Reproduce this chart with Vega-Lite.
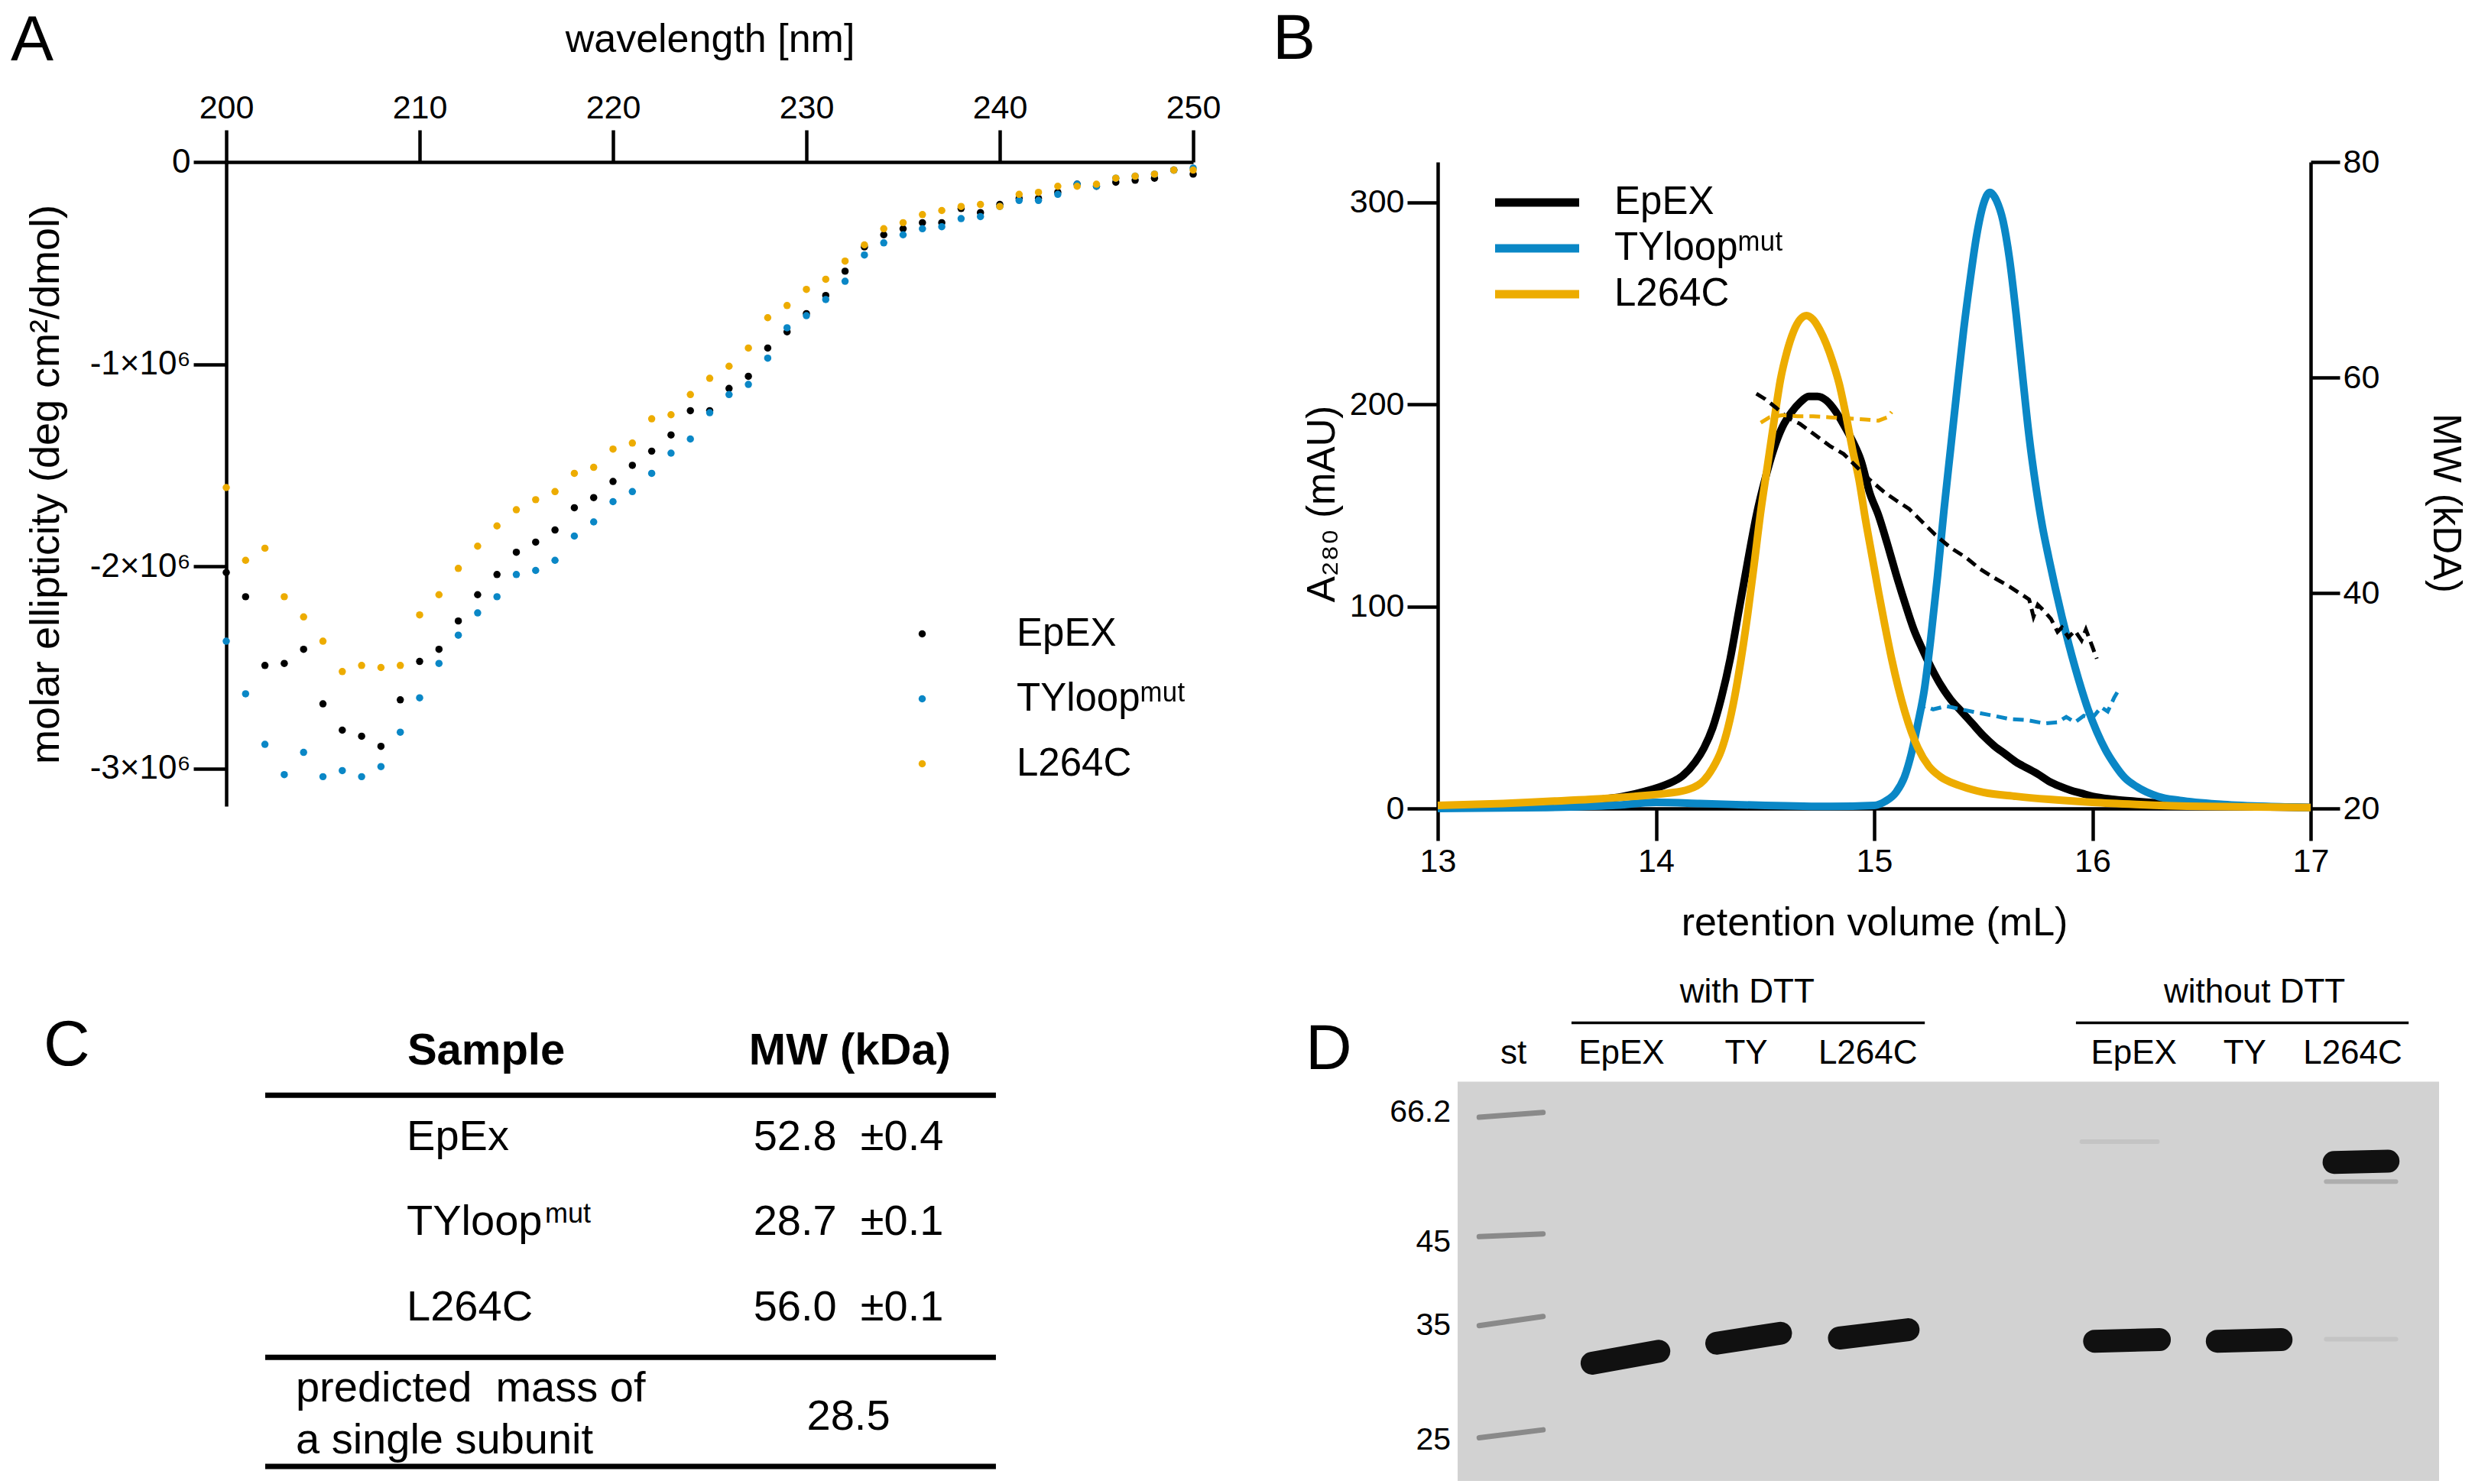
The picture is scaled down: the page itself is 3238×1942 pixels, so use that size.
{
"$schema":"https://vega.github.io/schema/vega-lite/v6.json",
"background":"white",
"padding":{"left":14,"top":10,"right":12,"bottom":0},
"config":{"font":"Liberation Sans","view":{"stroke":null},
 "axis":{"domainColor":"black","tickColor":"black","labelColor":"black","titleColor":"black","domainWidth":4.5,"tickWidth":4.5,"grid":false,"labelFont":"Liberation Sans","titleFont":"Liberation Sans","titleFontWeight":"normal","labelFlush":false,"labelOverlap":false},
 "legend":{"labelFont":"Liberation Sans","labelColor":"black","padding":0,"titlePadding":0,"labelLimit":0},
 "title":{"font":"Liberation Sans","fontWeight":"normal","color":"black","anchor":"start","frame":"group","fontSize":84,"offset":0,"baseline":"alphabetic"},
 "text":{"font":"Liberation Sans","color":"black"}},
"datasets":{
 "cd":[
{"wavelength":200,"EpEX":-2030000,"TYloop":-2370000,"L264C":-1610000},
{"wavelength":201,"EpEX":-2150000,"TYloop":-2630000,"L264C":-1970000},
{"wavelength":202,"EpEX":-2490000,"TYloop":-2880000,"L264C":-1910000},
{"wavelength":203,"EpEX":-2480000,"TYloop":-3030000,"L264C":-2150000},
{"wavelength":204,"EpEX":-2410000,"TYloop":-2920000,"L264C":-2250000},
{"wavelength":205,"EpEX":-2680000,"TYloop":-3040000,"L264C":-2370000},
{"wavelength":206,"EpEX":-2810000,"TYloop":-3010000,"L264C":-2520000},
{"wavelength":207,"EpEX":-2840000,"TYloop":-3040000,"L264C":-2490000},
{"wavelength":208,"EpEX":-2890000,"TYloop":-2990000,"L264C":-2500000},
{"wavelength":209,"EpEX":-2660000,"TYloop":-2820000,"L264C":-2490000},
{"wavelength":210,"EpEX":-2470000,"TYloop":-2650000,"L264C":-2240000},
{"wavelength":211,"EpEX":-2410000,"TYloop":-2480000,"L264C":-2140000},
{"wavelength":212,"EpEX":-2270000,"TYloop":-2340000,"L264C":-2010000},
{"wavelength":213,"EpEX":-2140000,"TYloop":-2230000,"L264C":-1900000},
{"wavelength":214,"EpEX":-2040000,"TYloop":-2150000,"L264C":-1800000},
{"wavelength":215,"EpEX":-1930000,"TYloop":-2040000,"L264C":-1720000},
{"wavelength":216,"EpEX":-1880000,"TYloop":-2020000,"L264C":-1670000},
{"wavelength":217,"EpEX":-1820000,"TYloop":-1970000,"L264C":-1630000},
{"wavelength":218,"EpEX":-1710000,"TYloop":-1850000,"L264C":-1540000},
{"wavelength":219,"EpEX":-1660000,"TYloop":-1780000,"L264C":-1510000},
{"wavelength":220,"EpEX":-1580000,"TYloop":-1680000,"L264C":-1420000},
{"wavelength":221,"EpEX":-1500000,"TYloop":-1630000,"L264C":-1390000},
{"wavelength":222,"EpEX":-1430000,"TYloop":-1540000,"L264C":-1270000},
{"wavelength":223,"EpEX":-1350000,"TYloop":-1440000,"L264C":-1250000},
{"wavelength":224,"EpEX":-1230000,"TYloop":-1370000,"L264C":-1150000},
{"wavelength":225,"EpEX":-1230000,"TYloop":-1240000,"L264C":-1070000},
{"wavelength":226,"EpEX":-1120000,"TYloop":-1150000,"L264C":-1010000},
{"wavelength":227,"EpEX":-1060000,"TYloop":-1100000,"L264C":-920000},
{"wavelength":228,"EpEX":-920000,"TYloop":-970000,"L264C":-770000},
{"wavelength":229,"EpEX":-840000,"TYloop":-820000,"L264C":-710000},
{"wavelength":230,"EpEX":-750000,"TYloop":-760000,"L264C":-630000},
{"wavelength":231,"EpEX":-660000,"TYloop":-680000,"L264C":-580000},
{"wavelength":232,"EpEX":-540000,"TYloop":-590000,"L264C":-490000},
{"wavelength":233,"EpEX":-420000,"TYloop":-460000,"L264C":-410000},
{"wavelength":234,"EpEX":-360000,"TYloop":-400000,"L264C":-330000},
{"wavelength":235,"EpEX":-330000,"TYloop":-360000,"L264C":-300000},
{"wavelength":236,"EpEX":-300000,"TYloop":-330000,"L264C":-260000},
{"wavelength":237,"EpEX":-300000,"TYloop":-320000,"L264C":-240000},
{"wavelength":238,"EpEX":-230000,"TYloop":-280000,"L264C":-220000},
{"wavelength":239,"EpEX":-250000,"TYloop":-270000,"L264C":-210000},
{"wavelength":240,"EpEX":-210000,"TYloop":-220000,"L264C":-220000},
{"wavelength":241,"EpEX":-180000,"TYloop":-190000,"L264C":-160000},
{"wavelength":242,"EpEX":-180000,"TYloop":-190000,"L264C":-150000},
{"wavelength":243,"EpEX":-150000,"TYloop":-160000,"L264C":-120000},
{"wavelength":244,"EpEX":-110000,"TYloop":-110000,"L264C":-120000},
{"wavelength":245,"EpEX":-120000,"TYloop":-120000,"L264C":-110000},
{"wavelength":246,"EpEX":-100000,"TYloop":-80000,"L264C":-80000},
{"wavelength":247,"EpEX":-90000,"TYloop":-70000,"L264C":-70000},
{"wavelength":248,"EpEX":-80000,"TYloop":-60000,"L264C":-60000},
{"wavelength":249,"EpEX":-40000,"TYloop":-40000,"L264C":-40000},
{"wavelength":250,"EpEX":-60000,"TYloop":-30000,"L264C":-40000}],
 "sec":[
{"volume":13.0,"sample":"EpEX","A280":0.5},{"volume":13.3,"sample":"EpEX","A280":1},{"volume":13.5,"sample":"EpEX","A280":2.5},{"volume":13.7,"sample":"EpEX","A280":4},{"volume":13.85,"sample":"EpEX","A280":6},{"volume":13.95,"sample":"EpEX","A280":8.5},{"volume":14.05,"sample":"EpEX","A280":12},{"volume":14.12,"sample":"EpEX","A280":16},{"volume":14.18,"sample":"EpEX","A280":23},{"volume":14.22,"sample":"EpEX","A280":30},{"volume":14.26,"sample":"EpEX","A280":40},{"volume":14.30,"sample":"EpEX","A280":55},{"volume":14.34,"sample":"EpEX","A280":74},{"volume":14.38,"sample":"EpEX","A280":98},{"volume":14.42,"sample":"EpEX","A280":122},{"volume":14.46,"sample":"EpEX","A280":145},{"volume":14.50,"sample":"EpEX","A280":163},{"volume":14.54,"sample":"EpEX","A280":178},{"volume":14.58,"sample":"EpEX","A280":189},{"volume":14.62,"sample":"EpEX","A280":196},{"volume":14.66,"sample":"EpEX","A280":201},{"volume":14.70,"sample":"EpEX","A280":204},{"volume":14.74,"sample":"EpEX","A280":204},{"volume":14.78,"sample":"EpEX","A280":202},{"volume":14.82,"sample":"EpEX","A280":197},{"volume":14.86,"sample":"EpEX","A280":190},{"volume":14.90,"sample":"EpEX","A280":182},{"volume":14.94,"sample":"EpEX","A280":172},{"volume":14.98,"sample":"EpEX","A280":156},{"volume":15.02,"sample":"EpEX","A280":145},{"volume":15.06,"sample":"EpEX","A280":131},{"volume":15.10,"sample":"EpEX","A280":116},{"volume":15.14,"sample":"EpEX","A280":102},{"volume":15.18,"sample":"EpEX","A280":89},{"volume":15.22,"sample":"EpEX","A280":79},{"volume":15.26,"sample":"EpEX","A280":70},{"volume":15.30,"sample":"EpEX","A280":62},{"volume":15.35,"sample":"EpEX","A280":54},{"volume":15.40,"sample":"EpEX","A280":48},{"volume":15.45,"sample":"EpEX","A280":42},{"volume":15.50,"sample":"EpEX","A280":36},{"volume":15.55,"sample":"EpEX","A280":31},{"volume":15.60,"sample":"EpEX","A280":27},{"volume":15.65,"sample":"EpEX","A280":23},{"volume":15.70,"sample":"EpEX","A280":20},{"volume":15.75,"sample":"EpEX","A280":17},{"volume":15.80,"sample":"EpEX","A280":13.5},{"volume":15.85,"sample":"EpEX","A280":11},{"volume":15.90,"sample":"EpEX","A280":9},{"volume":15.95,"sample":"EpEX","A280":7.5},{"volume":16.0,"sample":"EpEX","A280":6},{"volume":16.1,"sample":"EpEX","A280":4.5},{"volume":16.2,"sample":"EpEX","A280":3.5},{"volume":16.4,"sample":"EpEX","A280":2},{"volume":16.6,"sample":"EpEX","A280":1.2},{"volume":16.8,"sample":"EpEX","A280":0.8},{"volume":17.0,"sample":"EpEX","A280":0.5},
{"volume":13.0,"sample":"TYloop","A280":0},{"volume":13.5,"sample":"TYloop","A280":0.5},{"volume":13.8,"sample":"TYloop","A280":1.5},{"volume":14.0,"sample":"TYloop","A280":3},{"volume":14.2,"sample":"TYloop","A280":2.5},{"volume":14.5,"sample":"TYloop","A280":1.5},{"volume":14.8,"sample":"TYloop","A280":1},{"volume":15.0,"sample":"TYloop","A280":1.5},{"volume":15.05,"sample":"TYloop","A280":3.5},{"volume":15.10,"sample":"TYloop","A280":8},{"volume":15.14,"sample":"TYloop","A280":16},{"volume":15.17,"sample":"TYloop","A280":27},{"volume":15.20,"sample":"TYloop","A280":42},{"volume":15.23,"sample":"TYloop","A280":59},{"volume":15.26,"sample":"TYloop","A280":85},{"volume":15.29,"sample":"TYloop","A280":115},{"volume":15.32,"sample":"TYloop","A280":148},{"volume":15.35,"sample":"TYloop","A280":178},{"volume":15.38,"sample":"TYloop","A280":208},{"volume":15.41,"sample":"TYloop","A280":237},{"volume":15.44,"sample":"TYloop","A280":262},{"volume":15.47,"sample":"TYloop","A280":284},{"volume":15.50,"sample":"TYloop","A280":299},{"volume":15.53,"sample":"TYloop","A280":305},{"volume":15.56,"sample":"TYloop","A280":301},{"volume":15.59,"sample":"TYloop","A280":291},{"volume":15.62,"sample":"TYloop","A280":272},{"volume":15.65,"sample":"TYloop","A280":245},{"volume":15.68,"sample":"TYloop","A280":214},{"volume":15.71,"sample":"TYloop","A280":184},{"volume":15.74,"sample":"TYloop","A280":160},{"volume":15.77,"sample":"TYloop","A280":140},{"volume":15.80,"sample":"TYloop","A280":124},{"volume":15.83,"sample":"TYloop","A280":109},{"volume":15.86,"sample":"TYloop","A280":95},{"volume":15.89,"sample":"TYloop","A280":82},{"volume":15.92,"sample":"TYloop","A280":70},{"volume":15.95,"sample":"TYloop","A280":59},{"volume":15.98,"sample":"TYloop","A280":49},{"volume":16.02,"sample":"TYloop","A280":38},{"volume":16.06,"sample":"TYloop","A280":29},{"volume":16.10,"sample":"TYloop","A280":22},{"volume":16.15,"sample":"TYloop","A280":15},{"volume":16.2,"sample":"TYloop","A280":11},{"volume":16.3,"sample":"TYloop","A280":6},{"volume":16.4,"sample":"TYloop","A280":4},{"volume":16.6,"sample":"TYloop","A280":2},{"volume":16.8,"sample":"TYloop","A280":1},{"volume":17.0,"sample":"TYloop","A280":0.5},
{"volume":13.0,"sample":"L264C","A280":1.5},{"volume":13.3,"sample":"L264C","A280":2.5},{"volume":13.5,"sample":"L264C","A280":3.5},{"volume":13.7,"sample":"L264C","A280":4.5},{"volume":13.9,"sample":"L264C","A280":6},{"volume":14.05,"sample":"L264C","A280":7.5},{"volume":14.15,"sample":"L264C","A280":9.5},{"volume":14.22,"sample":"L264C","A280":14},{"volume":14.26,"sample":"L264C","A280":20},{"volume":14.30,"sample":"L264C","A280":29},{"volume":14.33,"sample":"L264C","A280":40},{"volume":14.36,"sample":"L264C","A280":55},{"volume":14.39,"sample":"L264C","A280":74},{"volume":14.42,"sample":"L264C","A280":96},{"volume":14.45,"sample":"L264C","A280":121},{"volume":14.48,"sample":"L264C","A280":147},{"volume":14.51,"sample":"L264C","A280":169},{"volume":14.54,"sample":"L264C","A280":191},{"volume":14.57,"sample":"L264C","A280":212},{"volume":14.60,"sample":"L264C","A280":226},{"volume":14.63,"sample":"L264C","A280":236},{"volume":14.66,"sample":"L264C","A280":242},{"volume":14.69,"sample":"L264C","A280":244},{"volume":14.72,"sample":"L264C","A280":242},{"volume":14.75,"sample":"L264C","A280":237},{"volume":14.78,"sample":"L264C","A280":230},{"volume":14.81,"sample":"L264C","A280":221},{"volume":14.84,"sample":"L264C","A280":210},{"volume":14.87,"sample":"L264C","A280":195},{"volume":14.90,"sample":"L264C","A280":178},{"volume":14.93,"sample":"L264C","A280":163},{"volume":14.96,"sample":"L264C","A280":143},{"volume":14.99,"sample":"L264C","A280":125},{"volume":15.02,"sample":"L264C","A280":107},{"volume":15.05,"sample":"L264C","A280":90},{"volume":15.08,"sample":"L264C","A280":74},{"volume":15.11,"sample":"L264C","A280":60},{"volume":15.14,"sample":"L264C","A280":48},{"volume":15.17,"sample":"L264C","A280":38},{"volume":15.20,"sample":"L264C","A280":30},{"volume":15.25,"sample":"L264C","A280":21},{"volume":15.30,"sample":"L264C","A280":16},{"volume":15.40,"sample":"L264C","A280":11},{"volume":15.50,"sample":"L264C","A280":8},{"volume":15.65,"sample":"L264C","A280":6},{"volume":15.80,"sample":"L264C","A280":4.5},{"volume":16.0,"sample":"L264C","A280":3},{"volume":16.2,"sample":"L264C","A280":2},{"volume":16.5,"sample":"L264C","A280":1},{"volume":17.0,"sample":"L264C","A280":0.5}],
 "mw":[
{"volume":14.46,"sample":"EpEX","MW":58.5},{"volume":14.50,"sample":"EpEX","MW":58.0},{"volume":14.55,"sample":"EpEX","MW":57.2},{"volume":14.60,"sample":"EpEX","MW":56.3},{"volume":14.66,"sample":"EpEX","MW":55.7},{"volume":14.72,"sample":"EpEX","MW":54.8},{"volume":14.80,"sample":"EpEX","MW":53.6},{"volume":14.86,"sample":"EpEX","MW":52.9},{"volume":14.92,"sample":"EpEX","MW":51.7},{"volume":14.98,"sample":"EpEX","MW":50.5},{"volume":15.05,"sample":"EpEX","MW":49.3},{"volume":15.10,"sample":"EpEX","MW":48.6},{"volume":15.16,"sample":"EpEX","MW":47.8},{"volume":15.22,"sample":"EpEX","MW":46.6},{"volume":15.28,"sample":"EpEX","MW":45.4},{"volume":15.35,"sample":"EpEX","MW":44.2},{"volume":15.42,"sample":"EpEX","MW":43.3},{"volume":15.48,"sample":"EpEX","MW":42.3},{"volume":15.55,"sample":"EpEX","MW":41.4},{"volume":15.62,"sample":"EpEX","MW":40.6},{"volume":15.68,"sample":"EpEX","MW":39.8},{"volume":15.71,"sample":"EpEX","MW":39.4},{"volume":15.73,"sample":"EpEX","MW":37.8},{"volume":15.75,"sample":"EpEX","MW":38.9},{"volume":15.78,"sample":"EpEX","MW":38.3},{"volume":15.81,"sample":"EpEX","MW":37.6},{"volume":15.84,"sample":"EpEX","MW":36.4},{"volume":15.86,"sample":"EpEX","MW":36.8},{"volume":15.89,"sample":"EpEX","MW":35.9},{"volume":15.92,"sample":"EpEX","MW":36.5},{"volume":15.95,"sample":"EpEX","MW":35.6},{"volume":15.97,"sample":"EpEX","MW":36.6},{"volume":16.0,"sample":"EpEX","MW":35.0},{"volume":16.02,"sample":"EpEX","MW":33.9},
{"volume":15.20,"sample":"TYloop","MW":28.8},{"volume":15.23,"sample":"TYloop","MW":29.5},{"volume":15.27,"sample":"TYloop","MW":29.2},{"volume":15.33,"sample":"TYloop","MW":29.5},{"volume":15.40,"sample":"TYloop","MW":29.2},{"volume":15.47,"sample":"TYloop","MW":28.9},{"volume":15.55,"sample":"TYloop","MW":28.6},{"volume":15.62,"sample":"TYloop","MW":28.3},{"volume":15.70,"sample":"TYloop","MW":28.2},{"volume":15.78,"sample":"TYloop","MW":27.9},{"volume":15.84,"sample":"TYloop","MW":28.0},{"volume":15.88,"sample":"TYloop","MW":28.5},{"volume":15.92,"sample":"TYloop","MW":28.0},{"volume":15.96,"sample":"TYloop","MW":28.6},{"volume":16.0,"sample":"TYloop","MW":28.4},{"volume":16.04,"sample":"TYloop","MW":29.4},{"volume":16.07,"sample":"TYloop","MW":29.0},{"volume":16.10,"sample":"TYloop","MW":30.3},{"volume":16.12,"sample":"TYloop","MW":31.0},
{"volume":14.48,"sample":"L264C","MW":55.8},{"volume":14.52,"sample":"L264C","MW":56.3},{"volume":14.58,"sample":"L264C","MW":56.5},{"volume":14.65,"sample":"L264C","MW":56.4},{"volume":14.72,"sample":"L264C","MW":56.4},{"volume":14.80,"sample":"L264C","MW":56.3},{"volume":14.88,"sample":"L264C","MW":56.2},{"volume":14.96,"sample":"L264C","MW":56.1},{"volume":15.02,"sample":"L264C","MW":56.0},{"volume":15.06,"sample":"L264C","MW":56.3},{"volume":15.08,"sample":"L264C","MW":56.8}],
 "table":[
{"row":1,"sample":"EpEx","sup":"","mw":"52.8\u00a0\u00a0±0.4"},
{"row":2,"sample":"TYloop","sup":"mut","mw":"28.7\u00a0\u00a0±0.1"},
{"row":3,"sample":"L264C","sup":"","mw":"56.0\u00a0\u00a0±0.1"}],
 "bands":[
{"lane":"st","kind":"marker","left":2.2,"right":8.7,"mig_left":8.9,"mig_right":7.7},
{"lane":"st","kind":"marker","left":2.2,"right":8.7,"mig_left":38.8,"mig_right":38.1},
{"lane":"st","kind":"marker","left":2.2,"right":8.7,"mig_left":61.1,"mig_right":58.8},
{"lane":"st","kind":"marker","left":2.2,"right":8.7,"mig_left":89.2,"mig_right":87.2},
{"lane":"EpEX +DTT","kind":"protein","left":13.7,"right":20.5,"mig_left":70.5,"mig_right":67.5},
{"lane":"TY +DTT","kind":"protein","left":26.4,"right":32.9,"mig_left":65.5,"mig_right":63.0},
{"lane":"L264C +DTT","kind":"protein","left":38.9,"right":45.9,"mig_left":64.2,"mig_right":62.1},
{"lane":"EpEX -DTT","kind":"protein","left":64.9,"right":71.5,"mig_left":65.0,"mig_right":64.6},
{"lane":"TY -DTT","kind":"protein","left":77.4,"right":83.9,"mig_left":65.0,"mig_right":64.6},
{"lane":"L264C -DTT","kind":"protein","left":89.3,"right":94.8,"mig_left":20.2,"mig_right":19.9},
{"lane":"L264C -DTT","kind":"faint","left":88.5,"right":95.6,"mig_left":25.0,"mig_right":25.0},
{"lane":"L264C -DTT","kind":"trace","left":88.5,"right":95.6,"mig_left":64.5,"mig_right":64.5},
{"lane":"EpEX -DTT","kind":"trace","left":63.6,"right":71.3,"mig_left":15.0,"mig_right":15.0}],
 "lanes":[
{"label":"st","lane_pos":5.7},{"label":"EpEX","lane_pos":16.7},{"label":"TY","lane_pos":29.4},{"label":"L264C","lane_pos":41.8},
{"label":"EpEX","lane_pos":68.9},{"label":"TY","lane_pos":80.2},{"label":"L264C","lane_pos":91.2}],
 "groups":[
{"label":"with DTT","center":29.5,"start":11.6,"end":47.6},
{"label":"without DTT","center":81.2,"start":63.0,"end":96.9}],
 "markers":[
{"kDa":"66.2","migration":10.0},{"kDa":"45","migration":42.5},{"kDa":"35","migration":63.4},{"kDa":"25","migration":92.1}]
},
"spacing":28,
"vconcat":[
{"hconcat":[
 {"width":1265,"height":843,
  "title":{"text":"A","dx":-282,"dy":76},
  "data":{"name":"cd"},
  "transform":[{"fold":["EpEX","TYloop","L264C"],"as":["sample","ellipticity"]}],
  "mark":{"type":"point","filled":true,"size":90,"opacity":1},
  "encoding":{
   "x":{"field":"wavelength","type":"quantitative","scale":{"domain":[200,250],"nice":false,"zero":false},
     "axis":{"orient":"top","values":[200,210,220,230,240,250],"format":"d","tickSize":42,"labelPadding":7,"labelFontSize":43,"title":"wavelength [nm]","titleFontSize":52,"titlePadding":42}},
   "y":{"field":"ellipticity","type":"quantitative","scale":{"domain":[-3186000,0],"nice":false,"zero":false},
     "axis":{"values":[-3000000,-2000000,-1000000,0],"labelExpr":"datum.value == 0 ? '0' : '-' + (-datum.value/1000000) + '×10⁶'","tickSize":43,"labelPadding":4,"labelFontSize":44,"title":"molar ellipticity (deg cm²/dmol)","titleFontSize":54,"titlePadding":30}},
   "color":{"field":"sample","type":"nominal","scale":{"domain":["EpEX","TYloop","L264C"],"range":["#000000","#0a87c6","#edac00"]},
     "legend":{"orient":"none","legendX":885,"legendY":592,"title":null,"labelFontSize":51,"symbolSize":90,"symbolType":"circle","labelOffset":98,"rowPadding":33,"labelExpr":"datum.label == 'TYloop' ? 'TYloopᵐᵘᵗ' : datum.label"}}
  }},
 {"width":1142,"height":846,
  "title":{"text":"B","dx":-216,"dy":-92},
  "layer":[
   {"data":{"name":"sec"},
    "mark":{"type":"line","strokeWidth":10,"interpolate":"monotone"},
    "encoding":{
     "x":{"field":"volume","type":"quantitative","scale":{"domain":[13,17],"nice":false,"zero":false},
       "axis":{"values":[13,14,15,16,17],"format":"d","tickSize":42,"labelPadding":6,"labelFontSize":43,"title":"retention volume (mL)","titleFontSize":52,"titlePadding":33}},
     "y":{"field":"A280","type":"quantitative","scale":{"domain":[0,320],"nice":false,"zero":false},
       "axis":{"values":[0,100,200,300],"tickSize":40,"labelPadding":4,"labelFontSize":43,"title":"A₂₈₀ (mAU)","titleFontSize":51,"titlePadding":9,"titleY":447}},
     "color":{"field":"sample","type":"nominal","scale":{"domain":["EpEX","TYloop","L264C"],"range":["#000000","#0a87c6","#edac00"]},
       "legend":{"orient":"none","legendX":97,"legendY":20,"title":null,"labelFontSize":51,"symbolType":"M-2,0L2,0","symbolSize":3025,"symbolStrokeWidth":11,"symbolDash":[],"labelOffset":68,"rowPadding":2,"labelExpr":"datum.label == 'TYloop' ? 'TYloopᵐᵘᵗ' : datum.label"}}
    }},
   {"data":{"name":"mw"},
    "mark":{"type":"line","strokeWidth":5,"strokeDash":[14,8]},
    "encoding":{
     "x":{"field":"volume","type":"quantitative"},
     "y":{"field":"MW","type":"quantitative","scale":{"domain":[20,80],"nice":false,"zero":false},
       "axis":{"orient":"right","values":[20,40,60,80],"tickSize":38,"labelPadding":4,"labelFontSize":43,"title":"MW (kDA)","titleFontSize":51,"titlePadding":60,"titleY":446}},
     "color":{"field":"sample","type":"nominal"}
    }}
  ],
  "resolve":{"scale":{"y":"independent"}}
 }
],"spacing":320,"bounds":"flush","resolve":{"scale":{"color":"independent"},"legend":{"color":"independent"}}},
{"hconcat":[
 {"width":1265,"height":677,
  "title":{"text":"C","dx":-239,"dy":155},
  "layer":[
   {"data":{"values":[{}]},"mark":{"type":"rule","strokeWidth":7,"color":"black"},
    "encoding":{"x":{"datum":4.03,"type":"quantitative","scale":{"domain":[0,100]},"axis":null},"x2":{"datum":79.6},
      "y":{"datum":0.36,"type":"quantitative","scale":{"domain":[-1.182,4.879],"reverse":true,"nice":false,"zero":false},"axis":null}}},
   {"data":{"values":[{}]},"mark":{"type":"rule","strokeWidth":7,"color":"black"},
    "encoding":{"x":{"datum":4.03,"type":"quantitative"},"x2":{"datum":79.6},"y":{"datum":3.43,"type":"quantitative"}}},
   {"data":{"values":[{}]},"mark":{"type":"rule","strokeWidth":7,"color":"black"},
    "encoding":{"x":{"datum":4.03,"type":"quantitative"},"x2":{"datum":79.6},"y":{"datum":4.71,"type":"quantitative"}}},
   {"data":{"values":[{}]},"mark":{"type":"text","text":"Sample","fontSize":58,"fontWeight":"bold","align":"center","baseline":"alphabetic"},
    "encoding":{"x":{"datum":26.88,"type":"quantitative"},"y":{"datum":0,"type":"quantitative"}}},
   {"data":{"values":[{}]},"mark":{"type":"text","text":"MW (kDa)","fontSize":58,"fontWeight":"bold","align":"center","baseline":"alphabetic"},
    "encoding":{"x":{"datum":64.5,"type":"quantitative"},"y":{"datum":0,"type":"quantitative"}}},
   {"data":{"name":"table"},"mark":{"type":"text","fontSize":56,"align":"left","baseline":"alphabetic"},
    "encoding":{"x":{"datum":18.66,"type":"quantitative"},"y":{"field":"row","type":"quantitative"},"text":{"field":"sample"}}},
   {"data":{"name":"table"},"mark":{"type":"text","fontSize":36,"align":"left","baseline":"alphabetic","dx":181,"dy":-16},
    "encoding":{"x":{"datum":18.66,"type":"quantitative"},"y":{"field":"row","type":"quantitative"},"text":{"field":"sup"}}},
   {"data":{"name":"table"},"mark":{"type":"text","fontSize":56,"align":"center","baseline":"alphabetic"},
    "encoding":{"x":{"datum":64.35,"type":"quantitative"},"y":{"field":"row","type":"quantitative"},"text":{"field":"mw"}}},
   {"data":{"values":[{}]},"mark":{"type":"text","text":"predicted\u00a0\u00a0mass of\na single subunit","lineBreak":"\n","lineHeight":68,"fontSize":56,"align":"left","baseline":"alphabetic","dy":-6},
    "encoding":{"x":{"datum":7.19,"type":"quantitative"},"y":{"datum":4,"type":"quantitative"}}},
   {"data":{"values":[{}]},"mark":{"type":"text","text":"28.5","fontSize":56,"align":"center","baseline":"alphabetic","dy":31},
    "encoding":{"x":{"datum":64.35,"type":"quantitative"},"y":{"datum":4,"type":"quantitative"}}}
  ]},
 {"width":1284,"height":677,
  "title":{"text":"D","dx":-199,"dy":160},
  "layer":[
   {"data":{"values":[{}]},"mark":{"type":"rect","color":"#d2d2d2"},
    "encoding":{"x":{"datum":0,"type":"quantitative","scale":{"domain":[0,100],"nice":false,"zero":false},"axis":null},"x2":{"datum":100},
      "y":{"datum":0,"type":"quantitative","scale":{"domain":[-29.6,100],"reverse":true,"nice":false,"zero":false},"axis":null},"y2":{"datum":100}}},
   {"data":{"name":"bands"},"transform":[{"filter":"datum.kind == 'marker'"}],
    "mark":{"type":"rule","strokeWidth":7,"strokeCap":"round","color":"#8a8a8a"},
    "encoding":{"x":{"field":"left","type":"quantitative"},"x2":{"field":"right"},"y":{"field":"mig_left","type":"quantitative"},"y2":{"field":"mig_right"}}},
   {"data":{"name":"bands"},"transform":[{"filter":"datum.kind == 'trace'"}],
    "mark":{"type":"rule","strokeWidth":6,"strokeCap":"round","color":"#c4c4c4"},
    "encoding":{"x":{"field":"left","type":"quantitative"},"x2":{"field":"right"},"y":{"field":"mig_left","type":"quantitative"},"y2":{"field":"mig_right"}}},
   {"data":{"name":"bands"},"transform":[{"filter":"datum.kind == 'faint'"}],
    "mark":{"type":"rule","strokeWidth":6,"strokeCap":"round","color":"#adadad"},
    "encoding":{"x":{"field":"left","type":"quantitative"},"x2":{"field":"right"},"y":{"field":"mig_left","type":"quantitative"},"y2":{"field":"mig_right"}}},
   {"data":{"name":"bands"},"transform":[{"filter":"datum.kind == 'protein'"}],
    "mark":{"type":"rule","strokeWidth":30,"strokeCap":"round","color":"#111111"},
    "encoding":{"x":{"field":"left","type":"quantitative"},"x2":{"field":"right"},"y":{"field":"mig_left","type":"quantitative"},"y2":{"field":"mig_right"}}},
   {"data":{"name":"lanes"},"mark":{"type":"text","fontSize":44,"align":"center","baseline":"alphabetic"},
    "encoding":{"x":{"field":"lane_pos","type":"quantitative"},"y":{"datum":-4.58,"type":"quantitative"},"text":{"field":"label"}}},
   {"data":{"name":"groups"},"mark":{"type":"text","fontSize":44,"align":"center","baseline":"alphabetic"},
    "encoding":{"x":{"field":"center","type":"quantitative"},"y":{"datum":-19.77,"type":"quantitative"},"text":{"field":"label"}}},
   {"data":{"name":"groups"},"mark":{"type":"rule","strokeWidth":3.5,"color":"black"},
    "encoding":{"x":{"field":"start","type":"quantitative"},"x2":{"field":"end"},"y":{"datum":-14.76,"type":"quantitative"}}},
   {"data":{"name":"markers"},"mark":{"type":"text","fontSize":41,"align":"right","baseline":"alphabetic","dx":-9},
    "encoding":{"x":{"datum":0,"type":"quantitative"},"y":{"field":"migration","type":"quantitative"},"text":{"field":"kDa"}}}
  ]}
],"spacing":346,"bounds":"flush"}
]
}
